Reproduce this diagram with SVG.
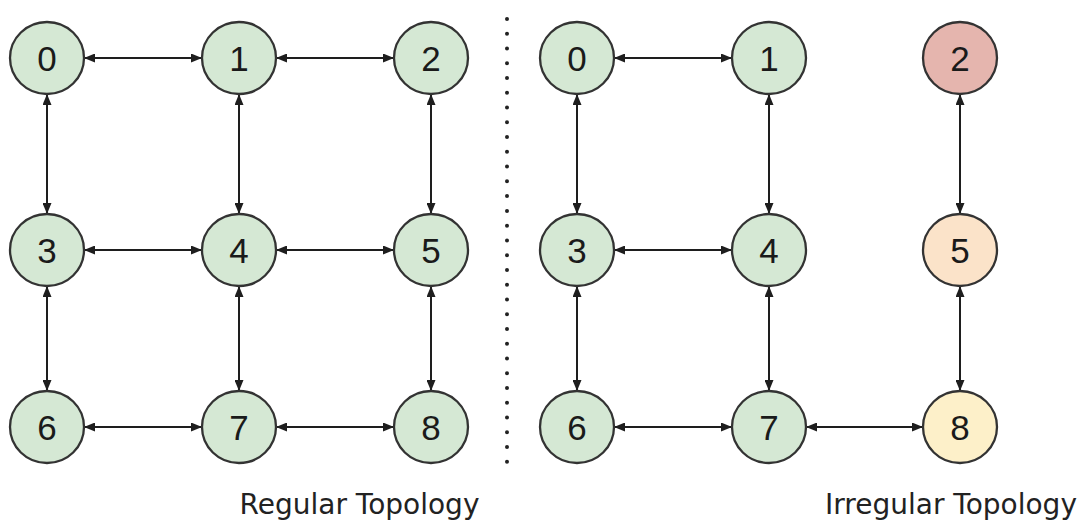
<svg xmlns="http://www.w3.org/2000/svg" width="1091" height="520" viewBox="0 0 1091 520">
<style>
.n ellipse{stroke:#333;stroke-width:2.3}
.g ellipse{fill:#d5e8d4}
.n text{font-family:"Liberation Sans",Arial,sans-serif;font-size:35px;fill:#1a1a1a;text-anchor:middle}
.e line{stroke:#1e1e1e;stroke-width:2;marker-start:url(#a);marker-end:url(#a)}
.lbl{font-family:"DejaVu Sans",sans-serif;font-size:28px;fill:#222;text-anchor:middle}
</style>
<defs>
<marker id="a" markerUnits="userSpaceOnUse" markerWidth="12" markerHeight="9" refX="11" refY="4.5" orient="auto-start-reverse" viewBox="0 0 11 9">
<path d="M0,0 L11,4.5 L0,9 z" fill="#1e1e1e"/>
</marker>
</defs>
<rect width="1091" height="520" fill="#fff"/>
<line x1="507" y1="19" x2="507" y2="462" stroke="#222" stroke-width="4" stroke-linecap="round" stroke-dasharray="0 14.76"/>
<g id="connectors" class="e">
<line x1="84" y1="58" x2="202" y2="58"/>
<line x1="276" y1="58" x2="394" y2="58"/>
<line x1="84" y1="250" x2="202" y2="250"/>
<line x1="276" y1="250" x2="394" y2="250"/>
<line x1="84" y1="427" x2="202" y2="427"/>
<line x1="276" y1="427" x2="394" y2="427"/>
<line x1="47" y1="94" x2="47" y2="214"/>
<line x1="239" y1="94" x2="239" y2="214"/>
<line x1="431" y1="94" x2="431" y2="214"/>
<line x1="47" y1="286" x2="47" y2="391"/>
<line x1="239" y1="286" x2="239" y2="391"/>
<line x1="431" y1="286" x2="431" y2="391"/>
<line x1="614" y1="58" x2="732" y2="58"/>
<line x1="614" y1="250" x2="732" y2="250"/>
<line x1="614" y1="427" x2="732" y2="427"/>
<line x1="806" y1="427" x2="923" y2="427"/>
<line x1="577" y1="94" x2="577" y2="214"/>
<line x1="769" y1="94" x2="769" y2="214"/>
<line x1="960" y1="94" x2="960" y2="214"/>
<line x1="577" y1="286" x2="577" y2="391"/>
<line x1="769" y1="286" x2="769" y2="391"/>
<line x1="960" y1="286" x2="960" y2="391"/>
</g>
<g id="L0" class="n g"><ellipse cx="47" cy="58" rx="37" ry="36"/><text x="47" y="71">0</text></g>
<g id="L1" class="n g"><ellipse cx="239" cy="58" rx="37" ry="36"/><text x="239" y="71">1</text></g>
<g id="L2" class="n g"><ellipse cx="431" cy="58" rx="37" ry="36"/><text x="431" y="71">2</text></g>
<g id="L3" class="n g"><ellipse cx="47" cy="250" rx="37" ry="36"/><text x="47" y="263">3</text></g>
<g id="L4" class="n g"><ellipse cx="239" cy="250" rx="37" ry="36"/><text x="239" y="263">4</text></g>
<g id="L5" class="n g"><ellipse cx="431" cy="250" rx="37" ry="36"/><text x="431" y="263">5</text></g>
<g id="L6" class="n g"><ellipse cx="47" cy="427" rx="37" ry="36"/><text x="47" y="440">6</text></g>
<g id="L7" class="n g"><ellipse cx="239" cy="427" rx="37" ry="36"/><text x="239" y="440">7</text></g>
<g id="L8" class="n g"><ellipse cx="431" cy="427" rx="37" ry="36"/><text x="431" y="440">8</text></g>
<g id="R0" class="n g"><ellipse cx="577" cy="58" rx="37" ry="36"/><text x="577" y="71">0</text></g>
<g id="R1" class="n g"><ellipse cx="769" cy="58" rx="37" ry="36"/><text x="769" y="71">1</text></g>
<g id="R2" class="n"><ellipse cx="960" cy="58" rx="37" ry="36" fill="#e5b5ae"/><text x="960" y="71">2</text></g>
<g id="R3" class="n g"><ellipse cx="577" cy="250" rx="37" ry="36"/><text x="577" y="263">3</text></g>
<g id="R4" class="n g"><ellipse cx="769" cy="250" rx="37" ry="36"/><text x="769" y="263">4</text></g>
<g id="R5" class="n"><ellipse cx="960" cy="250" rx="37" ry="36" fill="#fbe3c9"/><text x="960" y="263">5</text></g>
<g id="R6" class="n g"><ellipse cx="577" cy="427" rx="37" ry="36"/><text x="577" y="440">6</text></g>
<g id="R7" class="n g"><ellipse cx="769" cy="427" rx="37" ry="36"/><text x="769" y="440">7</text></g>
<g id="R8" class="n"><ellipse cx="960" cy="427" rx="37" ry="36" fill="#fdf0c9"/><text x="960" y="440">8</text></g>
<text class="lbl" x="359.5" y="514">Regular Topology</text>
<text class="lbl" x="951" y="514">Irregular Topology</text>
</svg>
